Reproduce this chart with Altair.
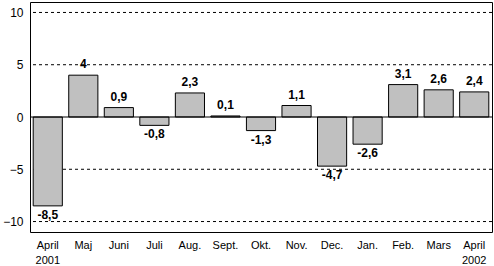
import altair as alt
import pandas as pd

months = ["April\n2001", "Maj", "Juni", "Juli", "Aug.", "Sept.", "Okt.", "Nov.",
          "Dec.", "Jan.", "Feb.", "Mars", "April\n2002"]
values = [-8.5, 4.0, 0.9, -0.8, 2.3, 0.1, -1.3, 1.1, -4.7, -2.6, 3.1, 2.6, 2.4]
grid_values = [-10, -5, 5, 10]
y_ticks = [-10, -5, 0, 5, 10]


def fmt(v):
    s = ("%g" % v).replace(".", ",")
    return s


df = pd.DataFrame({"month": months, "value": values,
                   "label": [fmt(v) for v in values]})
df_pos = df[df.value >= 0]
df_neg = df[df.value < 0]

FONT = "Liberation Sans"

x = alt.X("month:N", sort=months, title=None,
          scale=alt.Scale(paddingInner=0.18, paddingOuter=0.09),
          axis=alt.Axis(labelExpr="split(datum.label, '\\n')", labelAngle=0,
                        ticks=False, domain=False, labelFont=FONT, labelFontSize=11,
                        labelColor="black", labelPadding=7, labelLineHeight=15))
yscale = alt.Scale(domain=[-11, 11], nice=False, zero=False)

grid = alt.Chart(pd.DataFrame({"g": grid_values})).mark_rule(
    color="black", strokeDash=[3, 3], strokeWidth=1
).encode(y=alt.Y("g:Q", scale=yscale, title=None))

bars = alt.Chart(df).mark_bar(color="#C0C0C0", stroke="black", strokeWidth=1).encode(
    x=x,
    y=alt.Y("value:Q", scale=yscale, title=None,
            axis=alt.Axis(values=y_ticks, grid=False, ticks=False, domain=False,
                          labelFont=FONT, labelFontSize=12, labelColor="black",
                          labelPadding=7)),
    y2=alt.datum(0),
)

zero = alt.Chart(pd.DataFrame({"z": [0]})).mark_rule(color="black", strokeWidth=1).encode(
    y=alt.Y("z:Q", scale=yscale)
)

text_pos = alt.Chart(df_pos).mark_text(
    font=FONT, fontSize=12, fontWeight="bold", baseline="bottom", dy=-4, color="black"
).encode(x=alt.X("month:N", sort=months), y=alt.Y("value:Q", scale=yscale), text="label:N")

text_neg = alt.Chart(df_neg).mark_text(
    font=FONT, fontSize=12, fontWeight="bold", baseline="top", dy=4, color="black"
).encode(x=alt.X("month:N", sort=months), y=alt.Y("value:Q", scale=yscale), text="label:N")

chart = alt.layer(grid, bars, zero, text_pos, text_neg).properties(
    width=462, height=230,
    autosize=alt.AutoSizeParams(type="none"),
    padding={"left": 30, "top": 2, "right": 2, "bottom": 34},
    background="white",
).configure_view(stroke="black", strokeWidth=1)

chart.save("out.html", embed_options={"renderer": "svg", "actions": False})
